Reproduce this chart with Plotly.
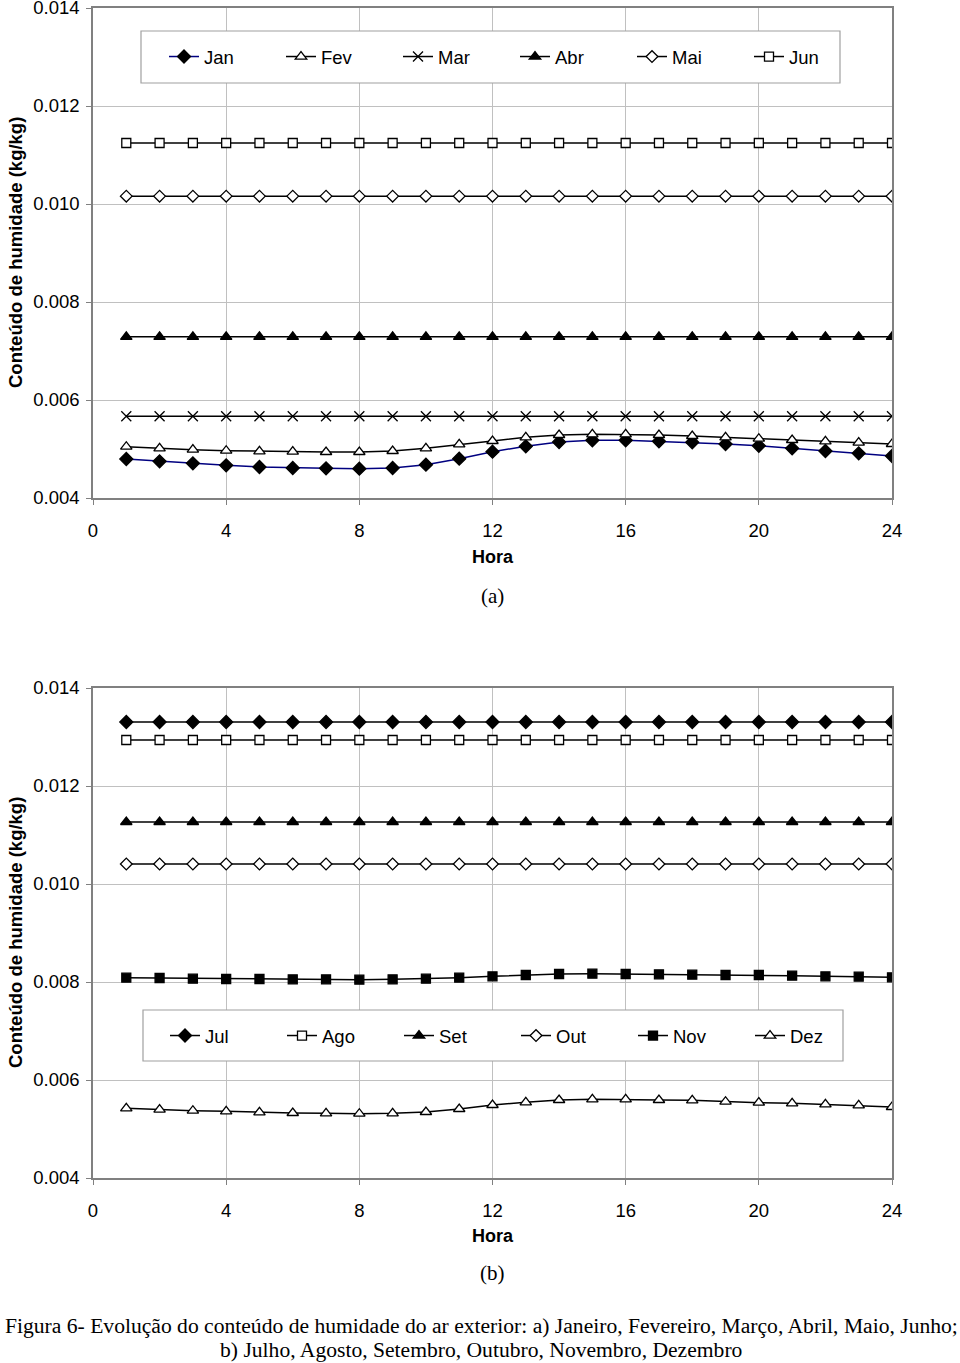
import plotly.graph_objects as go

hours = list(range(1, 25))

jan = [0.004796, 0.004749, 0.004708, 0.004667, 0.004633, 0.004612, 0.004606, 0.004598,
       0.004612, 0.004680, 0.004802, 0.004945, 0.005055, 0.005143, 0.005178, 0.005178,
       0.005157, 0.005137, 0.005102, 0.005067, 0.005014, 0.004959, 0.004912, 0.004857]
fev = [0.005047, 0.005014, 0.004986, 0.004965, 0.004953, 0.004945, 0.004939, 0.004939,
       0.004959, 0.005014, 0.005096, 0.005163, 0.005239, 0.005286, 0.005300, 0.005300,
       0.005286, 0.005265, 0.005239, 0.005210, 0.005184, 0.005157, 0.005129, 0.005102]
mar = [0.00567] * 24
abr = [0.00729] * 24
mai = [0.01016] * 24
jun = [0.011245] * 24

jul = [0.013306] * 24
ago = [0.012939] * 24
set_ = [0.011265] * 24
out = [0.010408] * 24
nov = [0.008088, 0.008082, 0.008067, 0.008061, 0.008061, 0.008055, 0.008055, 0.008047,
       0.008055, 0.008067, 0.008088, 0.008116, 0.008143, 0.008163, 0.008169, 0.008163,
       0.008157, 0.008149, 0.008143, 0.008143, 0.008129, 0.008116, 0.008108, 0.008096]
dez = [0.005422, 0.005394, 0.005373, 0.005361, 0.005341, 0.005327, 0.005320, 0.005312,
       0.005320, 0.005347, 0.005408, 0.005490, 0.005545, 0.005592, 0.005606, 0.005606,
       0.005592, 0.005586, 0.005557, 0.005537, 0.005524, 0.005504, 0.005484, 0.005449]

x_ticks = [0, 4, 8, 12, 16, 20, 24]
y_ticks = [0.004, 0.006, 0.008, 0.010, 0.012, 0.014]
y_tick_text = ["0.004", "0.006", "0.008", "0.010", "0.012", "0.014"]

top_series = [("Jan", jan), ("Fev", fev), ("Mar", mar), ("Abr", abr), ("Mai", mai), ("Jun", jun)]
bot_series = [("Jul", jul), ("Ago", ago), ("Set", set_), ("Out", out), ("Nov", nov), ("Dez", dez)]

# marker styles: (symbol, fill, size, line colour)
top_styles = [("diamond", "black", 10, "#000080"),
              ("triangle-up", "white", 10, "black"),
              ("x-thin", "black", 10, "black"),
              ("triangle-up", "black", 10, "black"),
              ("diamond", "white", 9, "black"),
              ("square", "white", 9, "black")]
bot_styles = [("diamond", "black", 10, "black"),
              ("square", "white", 9, "black"),
              ("triangle-up", "black", 10, "black"),
              ("diamond", "white", 9, "black"),
              ("square", "black", 9, "black"),
              ("triangle-up", "white", 10, "black")]

fig = go.Figure()

def add(series, styles, xa, ya, leg):
    for (name, vals), (sym, fill, sz, lc) in zip(series, styles):
        fig.add_trace(go.Scatter(
            x=hours, y=vals, name=name, mode="lines+markers",
            xaxis=xa, yaxis=ya, legend=leg,
            line=dict(color=lc, width=1.5),
            marker=dict(symbol=sym, color=fill, size=sz,
                        line=dict(color="black", width=1.3)),
        ))

add(top_series, top_styles, "x", "y", "legend")
add(bot_series, bot_styles, "x2", "y2", "legend2")

font = "Liberation Sans, Arial, sans-serif"
serif = "Liberation Serif, Times New Roman, serif"
FS = 18.5

xcommon = dict(range=[0, 24], tickvals=x_ticks, showgrid=True, gridcolor="#c0c0c0",
               gridwidth=1, showline=True, linecolor="#808080", linewidth=1.5, mirror=True,
               ticks="outside", ticklen=5, tickcolor="#808080", zeroline=False,
               automargin=False, ticklabeloverflow="allow",
               tickfont=dict(family=font, size=FS, color="black"), ticklabelstandoff=10)
ycommon = dict(range=[0.004, 0.014], tickvals=y_ticks, ticktext=y_tick_text, showgrid=True,
               gridcolor="#c0c0c0", gridwidth=1, showline=True, linecolor="#808080",
               linewidth=1.5, mirror=True, ticks="outside", ticklen=5, tickcolor="#808080",
               zeroline=False, automargin=False, ticklabeloverflow="allow",
               tickfont=dict(family=font, size=FS, color="black"),
               ticklabelstandoff=3)

H = 1170.0
PW = 799.0
def py(p):
    return (1178 - p) / H
def px(p):
    return (p - 93) / PW

fig.update_layout(
    width=960, height=1363,
    margin=dict(l=93, r=68, t=8, b=185, pad=0, autoexpand=False),
    paper_bgcolor="white", plot_bgcolor="white",
    xaxis=dict(domain=[0, 1], anchor="y", **xcommon),
    yaxis=dict(domain=[py(498), 1], anchor="x", **ycommon),
    xaxis2=dict(domain=[0, 1], anchor="y2", **xcommon),
    yaxis2=dict(domain=[0, py(688)], anchor="x2", **ycommon),
    legend=dict(orientation="h", x=px(164), y=py(57), xanchor="left", yanchor="middle",
                bgcolor="rgba(0,0,0,0)", borderwidth=0,
                font=dict(family=font, size=FS, color="black"),
                entrywidth=72, entrywidthmode="pixels", itemwidth=30),
    legend2=dict(orientation="h", x=px(165), y=py(1036), xanchor="left", yanchor="middle",
                 bgcolor="rgba(0,0,0,0)", borderwidth=0,
                 font=dict(family=font, size=FS, color="black"),
                 entrywidth=72, entrywidthmode="pixels", itemwidth=30),
    showlegend=True,
)

shapes = []
for (x0, x1, y0, y1) in [(141, 840, 31, 83), (143, 843, 1010, 1061)]:
    shapes.append(dict(type="rect", xref="paper", yref="paper",
                       x0=px(x0), x1=px(x1), y0=py(y1), y1=py(y0),
                       fillcolor="white", line=dict(color="#a0a0a0", width=1.2),
                       layer="above"))
fig.update_layout(shapes=shapes)

ann = []
ytitle = "Conteúdo de humidade (kg/kg)"
for ymid in [py(253), py(933)]:
    ann.append(dict(text=ytitle, x=px(15), y=ymid, xref="paper", yref="paper",
                    textangle=-90, showarrow=False, xanchor="center", yanchor="middle",
                    font=dict(family=font, size=FS, color="black", weight="bold")))
for yc in [557, 1236]:
    ann.append(dict(text="Hora", x=0.5, y=py(yc), xref="paper", yref="paper", showarrow=False,
                    xanchor="center", yanchor="middle",
                    font=dict(family=font, size=18, color="black", weight="bold")))
for txt, yc in [("(a)", 596), ("(b)", 1273)]:
    ann.append(dict(text=txt, x=0.5, y=py(yc), xref="paper", yref="paper", showarrow=False,
                    xanchor="center", yanchor="middle",
                    font=dict(family=serif, size=21, color="black")))
cap1 = "Figura 6- Evolução do conteúdo de humidade do ar exterior: a) Janeiro, Fevereiro, Março, Abril, Maio, Junho;"
cap2 = "b) Julho, Agosto, Setembro, Outubro, Novembro, Dezembro"
for txt, yc in [(cap1, 1326), (cap2, 1350)]:
    ann.append(dict(text=txt, x=px(481), y=py(yc), xref="paper", yref="paper",
                    showarrow=False, xanchor="center", yanchor="middle",
                    font=dict(family=serif, size=21.6, color="black")))
fig.update_layout(annotations=ann)

# remove the browser's default 8px body margin so the 960x1363 figure fills the window
fig.write_html("out.html", config={"displayModeBar": False},
               post_script="document.body.style.margin='0px';")
